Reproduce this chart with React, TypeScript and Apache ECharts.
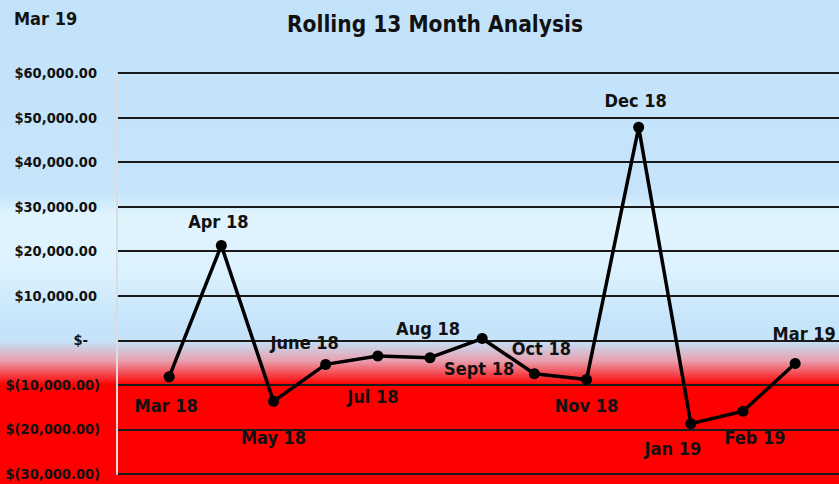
import React, { useEffect, useRef } from "react";
import * as echarts from "echarts";

const months = ["Mar 18", "Apr 18", "May 18", "June 18", "Jul 18", "Aug 18", "Sept 18", "Oct 18", "Nov 18", "Dec 18", "Jan 19", "Feb 19", "Mar 19"];
const values = [-8200, 21300, -13700, -5400, -3500, -3900, 400, -7500, -8800, 47800, -18700, -15900, -5200];
const yTicks = { min: -30000, max: 60000, interval: 10000 };
const titleText = "Rolling 13 Month Analysis";
const cornerText = "Mar 19";

// label placement relative to each point (layout, not data)
const labelOffsets: [number, number][] = [
  [-3, 29], [-3, -24], [0, 36], [-21, -22], [-5, 41], [-2, -29], [-3, 30],
  [7, -25], [0, 26], [-3, -27], [-18, 25], [12, 26], [9, -30],
];

const FONT = "'Liberation Sans Narrow', 'DejaVu Sans Condensed', Lato, sans-serif";
const TICK_FS = 14.5;

function fmt(n: number) {
  return n.toLocaleString("en-US", { minimumFractionDigits: 2, maximumFractionDigits: 2 });
}

export default function App() {
  const ref = useRef<HTMLDivElement>(null);
  useEffect(() => {
    document.body.style.margin = "0";
    const chart = echarts.init(ref.current!, undefined, { renderer: "svg" });
    const labelStyle = { fontFamily: FONT, fontWeight: "bold" as const, fontSize: 18, color: "#111" };
    const tickStyle = { fontFamily: FONT, fontWeight: "bold" as const, fontSize: TICK_FS, color: "#111" };
    chart.setOption({
      animation: false,
      graphic: [
        {
          type: "rect",
          z: -100,
          shape: { x: 0, y: 0, width: 839, height: 484 },
          style: {
            fill: new echarts.graphic.LinearGradient(0, 0, 0, 1, [
              { offset: 0, color: "#c2e2fa" },
              { offset: 0.4, color: "#c6e5fb" },
              { offset: 0.445, color: "#e0f4fe" },
              { offset: 0.56, color: "#dcf2fe" },
              { offset: 0.66, color: "#c6e5fb" },
              { offset: 0.705, color: "#c4e2f8" },
              { offset: 0.745, color: "#e8a0b0" },
              { offset: 0.795, color: "#ff0000" },
              { offset: 1, color: "#ff0000" },
            ]),
          },
        },
        {
          type: "text",
          left: 14,
          top: 9,
          style: { text: cornerText, fontFamily: FONT, fontWeight: "bold", fontSize: 18, fill: "#111" },
        },
        {
          type: "text",
          left: 287,
          top: 12,
          style: { text: titleText, fontFamily: FONT, fontWeight: "bold", fontSize: 22.5, fill: "#111" },
        },
      ],
      grid: { left: 117, right: 0, top: 73, bottom: 10, containLabel: false, outerBoundsMode: "none" },
      xAxis: {
        type: "value",
        min: -1,
        max: 12.84,
        axisLine: { show: false },
        axisTick: { show: false },
        axisLabel: { show: false },
        splitLine: { show: false },
      },
      yAxis: {
        type: "value",
        min: yTicks.min,
        max: yTicks.max,
        interval: yTicks.interval,
        axisLine: { show: true, onZero: false, lineStyle: { color: "#dcdcdc", width: 2 } },
        axisTick: { show: false },
        splitLine: { show: true, lineStyle: { color: "#1a1a1a", width: 2 } },
        axisLabel: {
          margin: 17,
          align: "right",
          ...tickStyle,
          formatter: (v: number) => {
            if (v === 0) return "{z|$-}";
            if (v < 0) return `{n|$(${fmt(-v)})}`;
            return `{p|$${fmt(v)}}`;
          },
          rich: {
            p: { ...tickStyle, padding: [0, 3, 0, 0] },
            n: { ...tickStyle },
            z: { ...tickStyle, padding: [0, 12, 0, 0] },
          },
        },
      },
      series: [
        {
          type: "line",
          data: values.map((v, i) => ({
            value: [i, v],
            name: months[i],
            label: { offset: labelOffsets[i] },
          })),
          symbol: "circle",
          symbolSize: 11,
          itemStyle: { color: "#000" },
          lineStyle: { color: "#000", width: 3.5 },
          label: {
            show: true,
            position: "inside",
            align: "center",
            verticalAlign: "middle",
            formatter: (p: any) => p.name,
            ...labelStyle,
          },
        },
      ],
    });
    return () => chart.dispose();
  }, []);
  return <div ref={ref} style={{ width: 839, height: 484 }} />;
}
